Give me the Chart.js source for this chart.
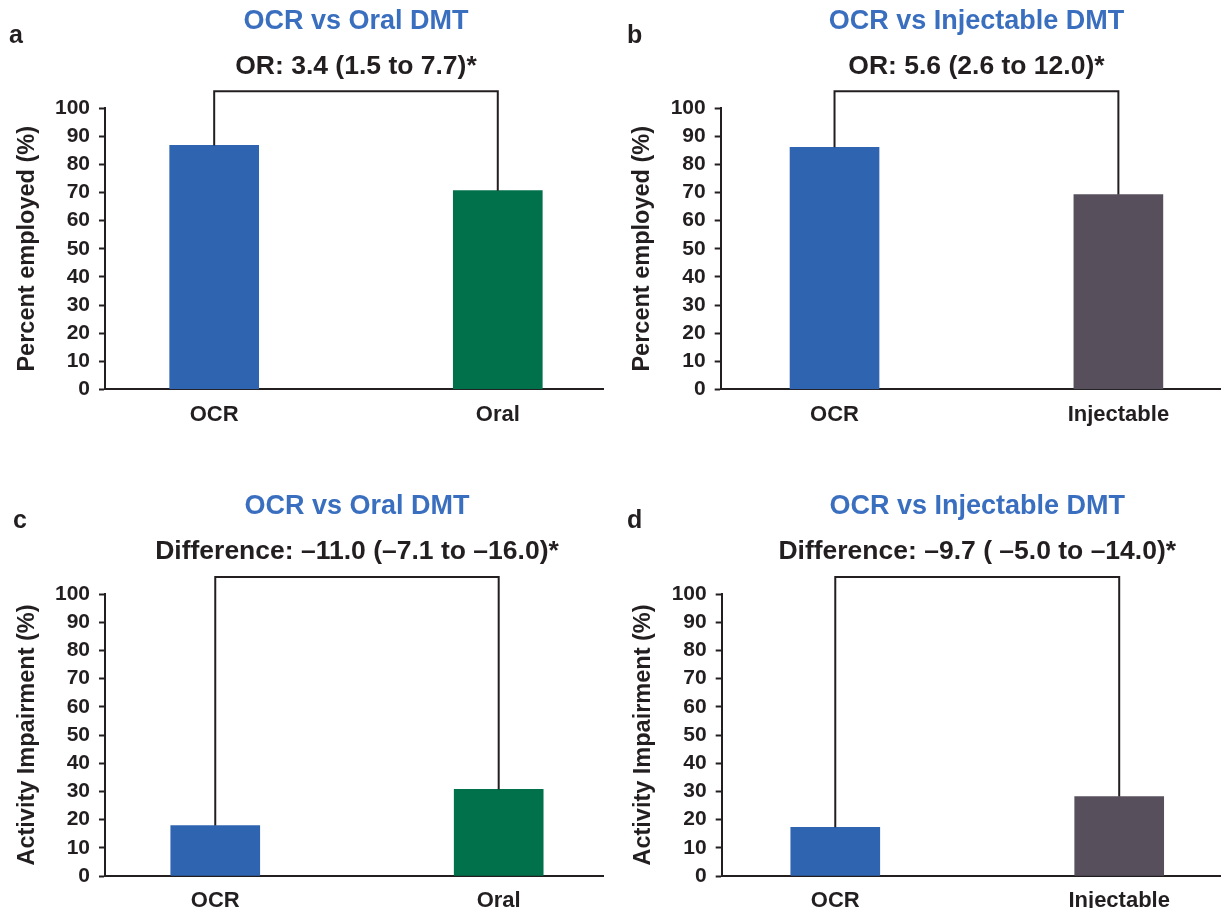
<!DOCTYPE html>
<html lang="en">
<head>
  <meta charset="UTF-8">
  <title>OCR vs Oral / Injectable DMT</title>
  <script src="https://cdn.jsdelivr.net/npm/chart.js"></script>
  <style>
    html, body { margin: 0; padding: 0; background: #fff; }
    #wrap { position: relative; width: 1221px; height: 908px; }
    #wrap canvas { position: absolute; }
  </style>
</head>
<body>
  <div id="wrap"></div>

  <script>
    // Data
    const categoriesOral = ['OCR', 'Oral'];
    const categoriesInjectable = ['OCR', 'Injectable'];
    const employedOral = [86.8, 70.7];
    const employedInjectable = [86.1, 69.3];
    const impairmentOral = [17.9, 30.7];
    const impairmentInjectable = [17.3, 28.2];

    const panelLetters = ['a', 'b', 'c', 'd'];
    const panelTitles = ['OCR vs Oral DMT', 'OCR vs Injectable DMT', 'OCR vs Oral DMT', 'OCR vs Injectable DMT'];
    const statLabels = [
      'OR: 3.4 (1.5 to 7.7)*',
      'OR: 5.6 (2.6 to 12.0)*',
      'Difference: \u201311.0 (\u20137.1 to \u201316.0)*',
      'Difference: \u20139.7 ( \u20135.0 to \u201314.0)*'
    ];
    const yAxisTitles = ['Percent employed (%)', 'Percent employed (%)', 'Activity Impairment (%)', 'Activity Impairment (%)'];
    const yMin = 0, yMax = 100, yStep = 10;

    const colOCR = '#2f65b0';
    const colOral = '#00714b';
    const colInjectable = '#57505c';
    const ink = '#231f20';
    const titleBlue = '#3a6fbf';

    Chart.defaults.font.family = '"Liberation Sans", Arial, sans-serif';

    // where each panel sits on the page
    const layouts = [
      { left: 0,   top: 0,   w: 610, h: 487, axisLeft: 105,   axisRight: 603, chartTop: 108.3, chartBottom: 389.3, xMin: -0.385, xMax: 1.371, letterX: 9,  letterY: 43 },
      { left: 610, top: 0,   w: 611, h: 487, axisLeft: 110.7, axisRight: 610, chartTop: 108.3, chartBottom: 389.3, xMin: -0.401, xMax: 1.358, letterX: 17, letterY: 43 },
      { left: 0,   top: 487, w: 610, h: 421, axisLeft: 105,   axisRight: 603, chartTop: 107,   chartBottom: 389,   xMin: -0.389, xMax: 1.368, letterX: 13, letterY: 41 },
      { left: 610, top: 487, w: 611, h: 421, axisLeft: 111.7, axisRight: 610, chartTop: 107,   chartBottom: 389,   xMin: -0.400, xMax: 1.355, letterX: 17, letterY: 41 }
    ];

    // titles, panel letter and the comparison bracket
    const decor = {
      id: 'decor',
      afterDatasetsDraw(chart, args, opts) {
        const { ctx, chartArea } = chart;
        const xs = chart.scales.x, ys = chart.scales.y;
        const cx = xs.getPixelForValue(0.5);
        ctx.save();
        ctx.textAlign = 'center';
        ctx.textBaseline = 'middle';
        ctx.font = 'bold 27px "Liberation Sans", Arial, sans-serif';
        ctx.fillStyle = titleBlue;
        ctx.fillText(opts.title, cx, chartArea.top - 87);
        ctx.font = 'bold 26.5px "Liberation Sans", Arial, sans-serif';
        ctx.fillStyle = ink;
        ctx.fillText(opts.stat, cx, chartArea.top - 42);

        ctx.textAlign = 'left';
        ctx.textBaseline = 'alphabetic';
        ctx.font = 'bold 25px "Liberation Sans", Arial, sans-serif';
        ctx.fillText(opts.letter, opts.letterX, opts.letterY);

        // bracket
        const by = chartArea.top - 17;
        const x0 = xs.getPixelForValue(0), x1 = xs.getPixelForValue(1);
        ctx.strokeStyle = ink;
        ctx.lineWidth = 2;
        ctx.beginPath();
        ctx.moveTo(x0, ys.getPixelForValue(opts.values[0]));
        ctx.lineTo(x0, by);
        ctx.lineTo(x1, by);
        ctx.lineTo(x1, ys.getPixelForValue(opts.values[1]));
        ctx.stroke();
        ctx.restore();
      }
    };

    function makePanel(i, cats, values, colors) {
      const L = layouts[i];
      const canvas = document.createElement('canvas');
      canvas.width = L.w;
      canvas.height = L.h;
      canvas.style.left = L.left + 'px';
      canvas.style.top = L.top + 'px';
      document.getElementById('wrap').appendChild(canvas);

      new Chart(canvas, {
        type: 'bar',
        data: {
          datasets: [{
            data: values.map((v, k) => ({ x: k, y: v })),
            backgroundColor: colors,
            borderWidth: 0,
            barThickness: 89
          }]
        },
        options: {
          responsive: false,
          animation: false,
          devicePixelRatio: 1,
          layout: { padding: { top: L.chartTop, left: 0, right: L.w - L.axisRight, bottom: 0 } },
          plugins: {
            legend: { display: false },
            tooltip: { enabled: false },
            decor: {
              title: panelTitles[i], stat: statLabels[i], letter: panelLetters[i],
              letterX: L.letterX, letterY: L.letterY, values: values
            }
          },
          scales: {
            x: {
              type: 'linear',
              offset: false,
              min: L.xMin,
              max: L.xMax,
              grid: { display: false, drawTicks: false, offset: false },
              border: { display: true, color: ink, width: 2 },
              afterBuildTicks: s => { s.ticks = cats.map((c, k) => ({ value: k })); },
              ticks: {
                autoSkip: false, maxRotation: 0, padding: 12, color: ink,
                font: { size: 22, weight: 'bold' },
                callback: v => cats[v]
              },
              afterFit: s => { s.height = L.h - L.chartBottom; }
            },
            y: {
              min: yMin,
              max: yMax,
              ticks: { stepSize: yStep, autoSkip: false, padding: 9, color: ink, font: { size: 21, weight: 'bold' } },
              grid: { drawOnChartArea: false, drawTicks: true, tickLength: 6, tickWidth: 2, tickColor: ink },
              border: { display: true, color: ink, width: 2 },
              title: {
                display: true, text: yAxisTitles[i], color: ink,
                font: { size: 23.5, weight: 'bold' },
                padding: { top: L.axisLeft - 78 - 14, bottom: 0 }
              },
              afterFit: s => { s.width = L.axisLeft; }
            }
          }
        },
        plugins: [decor]
      });
    }

    makePanel(0, categoriesOral, employedOral, [colOCR, colOral]);
    makePanel(1, categoriesInjectable, employedInjectable, [colOCR, colInjectable]);
    makePanel(2, categoriesOral, impairmentOral, [colOCR, colOral]);
    makePanel(3, categoriesInjectable, impairmentInjectable, [colOCR, colInjectable]);
  </script>
</body>
</html>
